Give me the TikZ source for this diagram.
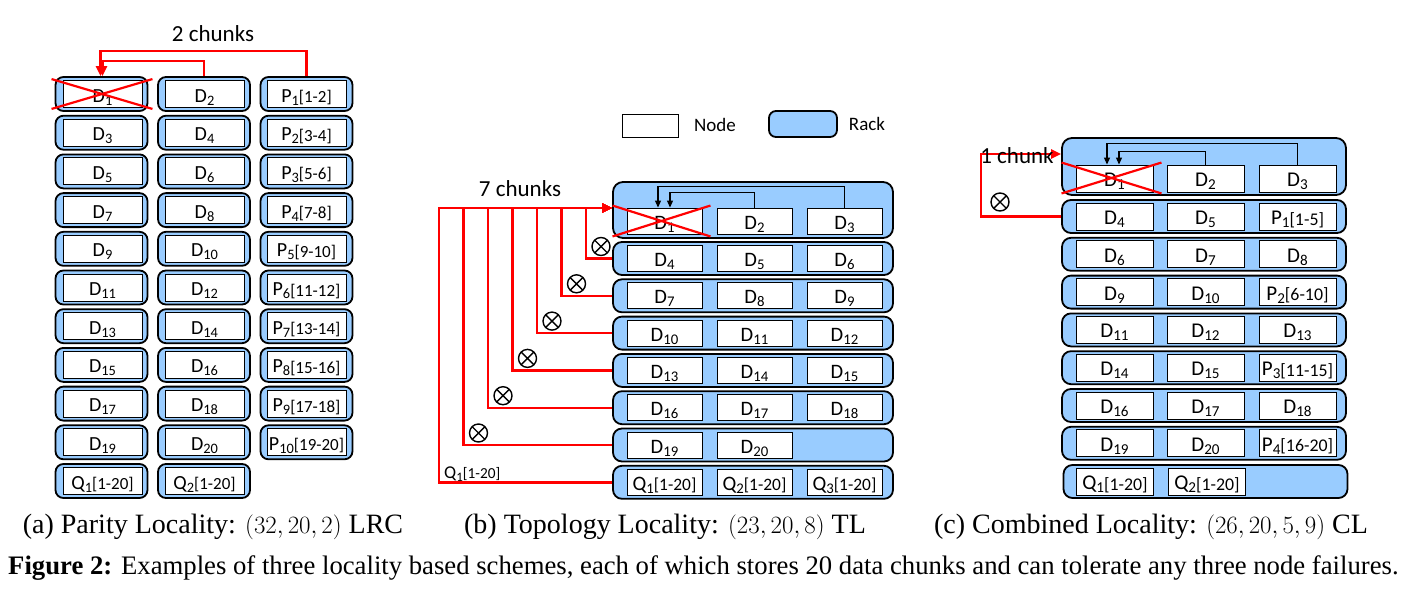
\documentclass[tikz,border=0pt]{standalone}
\usepackage{fontspec}
\usepackage{graphicx}
\setmainfont{Liberation Serif}
\newfontfamily\carl{Carlito}
\usetikzlibrary{arrows.meta,calc}
\definecolor{rackblue}{RGB}{153,204,255}
\definecolor{redline}{RGB}{255,0,0}
\newcommand\sbx[1]{\raisebox{-3pt}{\scalebox{0.72}{#1}}}
\newcommand\brx[1]{\raisebox{-0.5pt}{\scalebox{0.85}{#1}}}
\begin{document}
\begin{tikzpicture}[x=1pt,y=-1pt,
  rackst/.style={draw=black, line width=1.8pt, fill=rackblue, rounded corners=8pt, inner sep=0pt},
  ndst/.style={draw=black, line width=0.9pt, fill=white, inner sep=0pt, text height=16pt, text depth=0pt},
  rackA/.style={rackst, minimum width=92pt, minimum height=34pt},
  ndA/.style={ndst, minimum width=79pt, minimum height=27pt, font=\carl\fontsize{20}{20}\selectfont},
  rackB/.style={rackst, minimum width=280pt, minimum height=33pt, rounded corners=9pt},
  ndB/.style={ndst, minimum width=75pt, minimum height=26pt, font=\carl\fontsize{20.5}{20.5}\selectfont},
  rackC/.style={rackst, minimum width=284pt, minimum height=33pt, rounded corners=9pt},
  ndC/.style={ndst, minimum width=77pt, minimum height=27pt, font=\carl\fontsize{21}{21}\selectfont},
  redarr/.style={draw=redline, line width=2.4pt, -{Triangle[length=10pt,width=9pt]}},
  redx/.style={draw=redline, line width=2.2pt},
  blkarr/.style={draw=black, line width=1.1pt, -{Triangle[length=7pt,width=6pt]}},
  otim/.style={circle, draw=black, line width=1.4pt, minimum size=18pt, inner sep=0pt,
    path picture={\draw[line width=1.4pt] (path picture bounding box.north west) -- (path picture bounding box.south east)
      (path picture bounding box.north east) -- (path picture bounding box.south west);}},
  lbl/.style={font=\carl\fontsize{23}{23}\selectfont, inner sep=0pt},
  captxt/.style={font=\fontsize{28}{28}\selectfont, inner sep=0pt},
  figcap/.style={font=\fontsize{26.7}{26.7}\selectfont, inner sep=0pt}
]
\path[use as bounding box] (0,0) rectangle (1408,590);

% ---------------- panel (a)
\foreach \r/\la/\lb/\lc in {
  0/{D\sbx{1}}/{D\sbx{2}}/{P\sbx{1}\brx{[1-2]}},
  1/{D\sbx{3}}/{D\sbx{4}}/{P\sbx{2}\brx{[3-4]}},
  2/{D\sbx{5}}/{D\sbx{6}}/{P\sbx{3}\brx{[5-6]}},
  3/{D\sbx{7}}/{D\sbx{8}}/{P\sbx{4}\brx{[7-8]}},
  4/{D\sbx{9}}/{D\sbx{10}}/{P\sbx{5}\brx{[9-10]}},
  5/{D\sbx{11}}/{D\sbx{12}}/{P\sbx{6}\brx{[11-12]}},
  6/{D\sbx{13}}/{D\sbx{14}}/{P\sbx{7}\brx{[13-14]}},
  7/{D\sbx{15}}/{D\sbx{16}}/{P\sbx{8}\brx{[15-16]}},
  8/{D\sbx{17}}/{D\sbx{18}}/{P\sbx{9}\brx{[17-18]}},
  9/{D\sbx{19}}/{D\sbx{20}}/{P\sbx{10}\brx{[19-20]}}}{
  \pgfmathsetmacro\yy{94+38.7*\r}
  \node[rackA] (ra\r-1) at (101.5,\yy) {};
  \node[ndA] (a\r-1) at (102.5,\yy) {\la};
  \node[rackA] (ra\r-2) at (204,\yy) {};
  \node[ndA] (a\r-2) at (204.5,\yy) {\lb};
  \node[rackA] (ra\r-3) at (306.5,\yy) {};
  \node[ndA] (a\r-3) at (306.5,\yy) {\lc};
}
\node[rackA] (ra10-1) at (101.5,481) {};
\node[ndA] (a10-1) at (102.5,481) {Q\sbx{1}\brx{[1-20]}};
\node[rackA] (ra10-2) at (204,481) {};
\node[ndA] (a10-2) at (204.5,481) {Q\sbx{2}\brx{[1-20]}};

\draw[redx] ([shift={(-11,-1)}]a0-1.north west) -- ([shift={(10,1)}]a0-1.south east);
\draw[redx] ([shift={(-11,1)}]a0-1.south west) -- ([shift={(10,-1)}]a0-1.north east);
\draw[redarr] (ra0-3.north) -- ++(0,-25) -| ([xshift=-1]ra0-1.north);
\draw[redarr] (ra0-2.north) -- ++(0,-15) -| ([xshift=1]ra0-1.north);
\node[lbl] (chunksA) at (213,34) {2 chunks};

% ---------------- legend
\node[ndst, minimum width=56pt, minimum height=23pt] (legnode) at (650,125.5) {};
\node[lbl, font=\carl\fontsize{19}{19}\selectfont] (legnodet) at (715,125) {Node};
\node[rackst, minimum width=68pt, minimum height=26pt, rounded corners=7pt] (legrack) at (803,124) {};
\node[lbl, font=\carl\fontsize{19}{19}\selectfont] (legrackt) at (867,124) {Rack};

% ---------------- panel (b)
\node[rackst, minimum width=280pt, minimum height=56pt, rounded corners=10pt] (rb1) at (753,210) {};
\node[ndB] (b1-1) at (664.5,221) {D\sbx{1}};
\node[ndB] (b1-2) at (754.5,221) {D\sbx{2}};
\node[ndB] (b1-3) at (844.5,221) {D\sbx{3}};
\foreach \k/\la/\lb/\lc in {
  2/{D\sbx{4}}/{D\sbx{5}}/{D\sbx{6}},
  3/{D\sbx{7}}/{D\sbx{8}}/{D\sbx{9}},
  4/{D\sbx{10}}/{D\sbx{11}}/{D\sbx{12}},
  5/{D\sbx{13}}/{D\sbx{14}}/{D\sbx{15}},
  6/{D\sbx{16}}/{D\sbx{17}}/{D\sbx{18}},
  8/{Q\sbx{1}\brx{[1-20]}}/{Q\sbx{2}\brx{[1-20]}}/{Q\sbx{3}\brx{[1-20]}}}{
  \pgfmathsetmacro\yy{258.5+37.3*(\k-2)}
  \node[rackB] (rb\k) at (753,\yy) {};
  \node[ndB] (b\k-1) at (664.5,\yy) {\la};
  \node[ndB] (b\k-2) at (754.5,\yy) {\lb};
  \node[ndB] (b\k-3) at (844.5,\yy) {\lc};
}
\node[rackB] (rb7) at (753,445) {};
\node[ndB] (b7-1) at (664.5,445) {D\sbx{19}};
\node[ndB] (b7-2) at (754.5,445) {D\sbx{20}};

\draw[redx] ([shift={(-14,-2)}]b1-1.north west) -- ([shift={(8,2)}]b1-1.south east);
\draw[redx] ([shift={(-14,2)}]b1-1.south west) -- ([shift={(8,-2)}]b1-1.north east);
\draw[blkarr] (b1-3.north) -- ++(0,-21) -| ([xshift=-6.5]b1-1.north);
\draw[blkarr] (b1-2.north) -- ++(0,-15) -| ([xshift=5.5]b1-1.north);

\foreach \k in {2,...,8}{
  \draw[redarr] (rb\k.west) -- ++({-26-24.5*(\k-2)},0) |- ([yshift=2]rb1.west);
}
\foreach \k in {2,...,7}{
  \node[otim] (ob\k) at ({601-24.5*(\k-2)},{246.5+37.3*(\k-2)}) {};
}
\node[lbl, font=\carl\fontsize{18}{18}\selectfont, anchor=west, text height=14pt, text depth=0pt] (qlab) at (444,471) {Q\sbx{1}\brx{[1-20]}};
\node[lbl] (chunksB) at (520,189) {7 chunks};

% ---------------- panel (c)
\node[rackst, minimum width=284pt, minimum height=57pt, rounded corners=10pt] (rc1) at (1204,166.5) {};
\node[ndC] (c1-1) at (1114.5,178.5) {D\sbx{1}};
\node[ndC] (c1-2) at (1205.5,178.5) {D\sbx{2}};
\node[ndC] (c1-3) at (1297.5,178.5) {D\sbx{3}};
\foreach \k/\la/\lb/\lc in {
  2/{D\sbx{4}}/{D\sbx{5}}/{P\sbx{1}\brx{[1-5]}},
  3/{D\sbx{6}}/{D\sbx{7}}/{D\sbx{8}},
  4/{D\sbx{9}}/{D\sbx{10}}/{P\sbx{2}\brx{[6-10]}},
  5/{D\sbx{11}}/{D\sbx{12}}/{D\sbx{13}},
  6/{D\sbx{14}}/{D\sbx{15}}/{P\sbx{3}\brx{[11-15]}},
  7/{D\sbx{16}}/{D\sbx{17}}/{D\sbx{18}},
  8/{D\sbx{19}}/{D\sbx{20}}/{P\sbx{4}\brx{[16-20]}}}{
  \pgfmathsetmacro\yy{216.5+37.8*(\k-2)}
  \node[rackC] (rc\k) at (1204,\yy) {};
  \node[ndC] (c\k-1) at (1114.5,\yy) {\la};
  \node[ndC] (c\k-2) at (1205.5,\yy) {\lb};
  \node[ndC] (c\k-3) at (1297.5,\yy) {\lc};
}
\node[rackC] (rc9) at (1205.5,481.5) {};
\node[ndC] (c9-1) at (1115,481.5) {Q\sbx{1}\brx{[1-20]}};
\node[ndC] (c9-2) at (1207,481.5) {Q\sbx{2}\brx{[1-20]}};

\draw[redx] ([shift={(-14,-2)}]c1-1.north west) -- ([shift={(8,1)}]c1-1.south east);
\draw[redx] ([shift={(-14,1)}]c1-1.south west) -- ([shift={(8,-2)}]c1-1.north east);
\draw[blkarr] (c1-3.north) -- ++(0,-21) -| ([xshift=-7.5]c1-1.north);
\draw[blkarr] (c1-2.north) -- ++(0,-13) -| ([xshift=4.5]c1-1.north);
\draw[redarr] (rc2.west) -- ++(-80,0) |- ([yshift=12.5]rc1.west);
\node[otim] (oc) at (1000,202) {};
\node[lbl, anchor=base] (chunksC) at (1017,163) {1 chunk};

% ---------------- captions
\node[captxt] (capa) at (213,527) {(a) Parity Locality: $(32,20,2)$ LRC};
\node[captxt] (capb) at (665,527) {(b) Topology Locality: $(23,20,8)$ TL};
\node[captxt] (capc) at (1151,527) {(c) Combined Locality: $(26,20,5,9)$ CL};
\node[figcap, anchor=west] (capfig) at (8,568) {\textbf{Figure 2:} Examples of three locality based schemes, each of which stores 20 data chunks and can tolerate any three node failures.};
\end{tikzpicture}
\end{document}
